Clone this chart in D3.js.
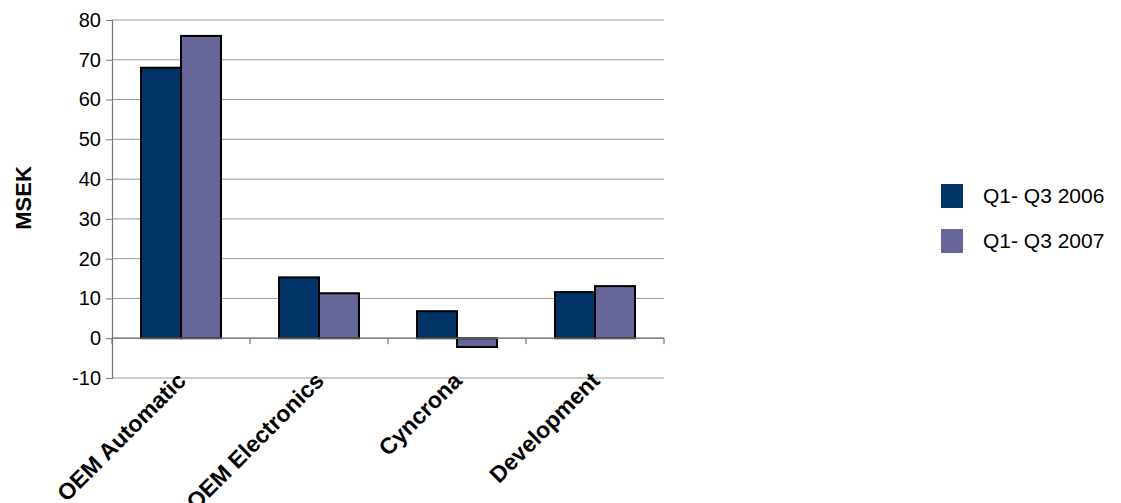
<!DOCTYPE html>
<html>
<head>
<meta charset="utf-8">
<script src="https://cdn.jsdelivr.net/npm/d3@7"></script>
<style>
body { margin: 0; background: #fff; }
text { font-family: "Liberation Sans", Arial, sans-serif; fill: #000; }
</style>
</head>
<body>
<svg id="chart" width="1121" height="503"></svg>
<script>
var categories = ["OEM Automatic", "OEM Electronics", "Cyncrona", "Development"];
var seriesNames = ["Q1- Q3 2006", "Q1- Q3 2007"];
var values2006 = [68, 15.3, 6.8, 11.6];
var values2007 = [76, 11.3, -2.2, 13.1];
var yTicks = [-10, 0, 10, 20, 30, 40, 50, 60, 70, 80];
var colors = ["#003366", "#666699"];

var svg = d3.select("#chart");
var plotLeft = 112, plotRight = 664, plotTop = 20, plotBottom = 378;

var x = d3.scaleBand().domain(categories).range([plotLeft, plotRight]);
var inner = d3.scaleBand().domain(seriesNames).range([0, x.bandwidth()]).paddingInner(0).paddingOuter(0.725);
var y = d3.scaleLinear().domain([-10, 80]).range([plotBottom, plotTop]);

// gridlines
svg.append("g").selectAll("line").data(yTicks).join("line")
	.attr("x1", plotLeft).attr("x2", plotRight)
	.attr("y1", function(d){ return y(d); }).attr("y2", function(d){ return y(d); })
	.attr("stroke", "#999").attr("stroke-width", 1);

// y axis
var yAxis = svg.append("g").attr("transform", "translate(" + plotLeft + ",0)")
	.call(d3.axisLeft(y).tickValues(yTicks).tickSize(6).tickPadding(5).tickFormat(function(d){ return String(d); }));
yAxis.select(".domain").attr("stroke", "#777").attr("stroke-width", 1.2);
yAxis.selectAll(".tick line").attr("stroke", "#777");
yAxis.selectAll("text").style("font-size", "20px").style("font-family", "Liberation Sans, Arial, sans-serif").attr("fill", "#000");

// bars
var series = [values2006, values2007];
series.forEach(function(vals, s) {
	svg.append("g").selectAll("rect").data(categories).join("rect")
		.attr("x", function(d){ return x(d) + inner(seriesNames[s]); })
		.attr("width", inner.bandwidth())
		.attr("y", function(d, i){ return y(Math.max(0, vals[i])); })
		.attr("height", function(d, i){ return Math.abs(y(vals[i]) - y(0)); })
		.attr("fill", colors[s])
		.attr("stroke", "#000").attr("stroke-width", 2);
});

// zero axis with category ticks
var xAxis = svg.append("g").attr("transform", "translate(0," + y(0) + ")");
xAxis.append("line").attr("x1", plotLeft).attr("x2", plotRight).attr("stroke", "#777").attr("stroke-width", 1.2);
xAxis.selectAll(".ct").data(categories.concat(["end"])).join("line")
	.attr("x1", function(d, i){ return plotLeft + i * x.bandwidth(); })
	.attr("x2", function(d, i){ return plotLeft + i * x.bandwidth(); })
	.attr("y1", 0).attr("y2", 6)
	.attr("stroke", "#777").attr("stroke-width", 1.2);

// category labels
svg.append("g").selectAll("text").data(categories).join("text")
	.attr("transform", function(d){ return "translate(" + (x(d) + x.bandwidth() / 2 - 6) + "," + (plotBottom - 8) + ") rotate(-45)"; })
	.attr("text-anchor", "end")
	.attr("dy", "0.75em")
	.style("font-size", "23px").style("font-weight", "bold")
	.text(function(d){ return d; });

// y label
svg.append("text")
	.attr("transform", "translate(31,198) rotate(-90)")
	.attr("text-anchor", "middle")
	.style("font-size", "22px").style("font-weight", "bold")
	.text("MSEK");

// legend
var legend = svg.append("g").selectAll("g").data(seriesNames).join("g")
	.attr("transform", function(d, i){ return "translate(941," + (184 + i * 45) + ")"; });
legend.append("rect").attr("width", 22).attr("height", 24)
	.attr("fill", function(d, i){ return colors[i]; });
legend.append("text").attr("x", 42).attr("y", 12).attr("dy", "0.35em")
	.style("font-size", "21px").text(function(d){ return d; });
</script>
</body>
</html>
